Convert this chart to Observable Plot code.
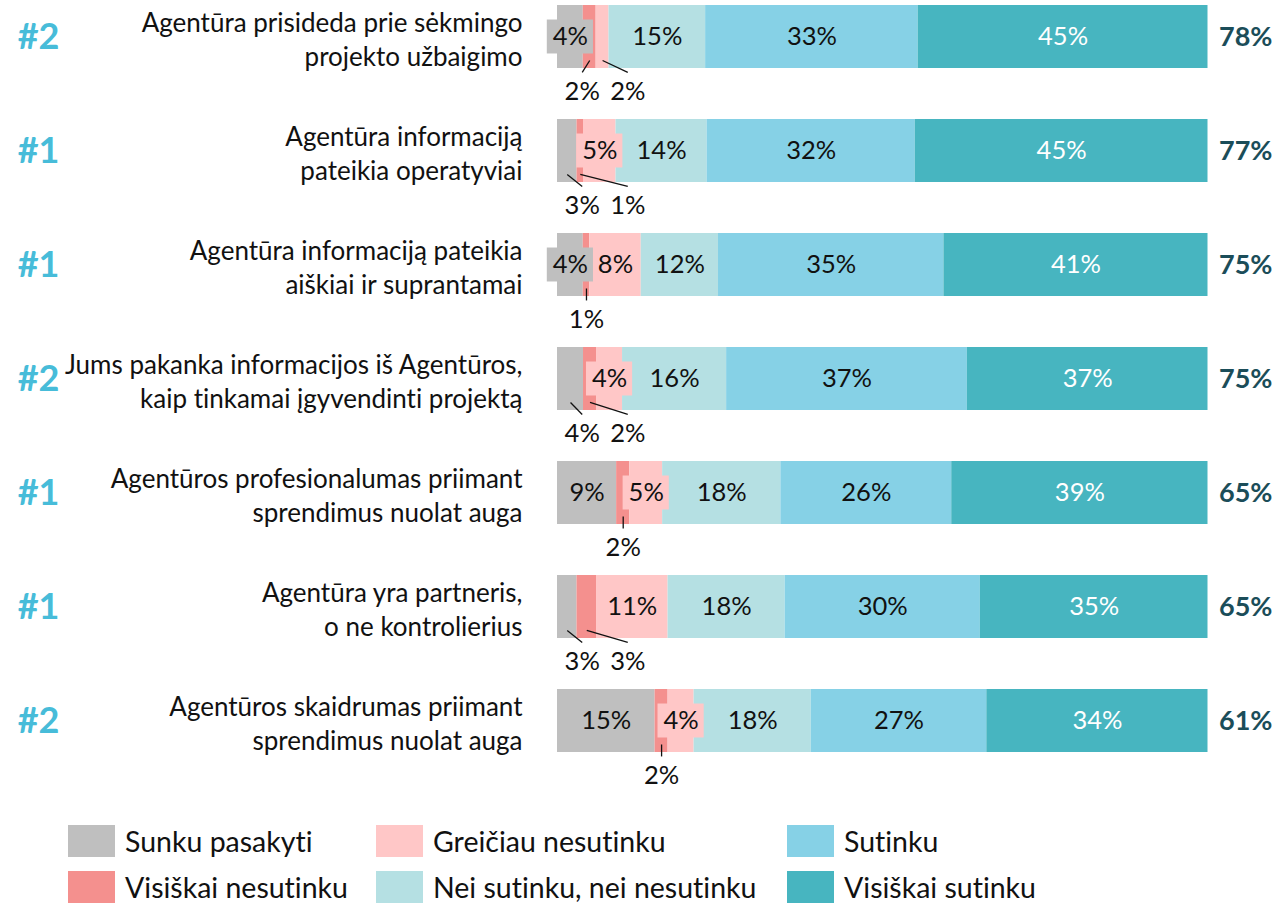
<!DOCTYPE html>
<html><head><meta charset="utf-8">
<script src="https://cdn.jsdelivr.net/npm/d3@7"></script>
<script src="https://cdn.jsdelivr.net/npm/@observablehq/plot@0.6"></script>
<style>
body{margin:0;background:#fff;font-family:Lato,"Open Sans",sans-serif;font-variant-ligatures:none;}
svg text{font-variant-ligatures:none;}
#legend{position:relative;height:105px;}
.item{position:absolute;display:flex;align-items:center;font-size:28.5px;line-height:32px;color:#111;white-space:nowrap;}
.sw{width:47px;height:32px;margin-right:10px;flex:none;}
</style></head><body><div id="chart"></div><div id="legend"></div>
<script>
const questions = [
  "Agentūra prisideda prie sėkmingo\nprojekto užbaigimo",
  "Agentūra informaciją\npateikia operatyviai",
  "Agentūra informaciją pateikia\naiškiai ir suprantamai",
  "Jums pakanka informacijos iš Agentūros,\nkaip tinkamai įgyvendinti projektą",
  "Agentūros profesionalumas priimant\nsprendimus nuolat auga",
  "Agentūra yra partneris,\no ne kontrolierius",
  "Agentūros skaidrumas priimant\nsprendimus nuolat auga"
];
const ranks = ["#2","#1","#1","#2","#1","#1","#2"];
const totals = ["78%","77%","75%","75%","65%","65%","61%"];
const categories = ["Sunku pasakyti","Visiškai nesutinku","Greičiau nesutinku","Nei sutinku, nei nesutinku","Sutinku","Visiškai sutinku"];
const colors = ["#bfbfbf","#f4908e","#ffc7c7","#b5e0e3","#86d1e6","#47b5c0"];
const sunku      = [4, 3, 4, 4, 9, 3, 15];
const visiskaiNe = [2, 1, 1, 2, 2, 3, 2];
const greiciauNe = [2, 5, 8, 4, 5, 11, 4];
const nei        = [15, 14, 12, 16, 18, 18, 18];
const sutinku    = [33, 32, 35, 37, 26, 30, 27];
const visiskai   = [45, 45, 41, 37, 39, 35, 34];
// labels placed below the bar: [row, category index]
const outside = [[0,1],[0,2],[1,0],[1,1],[2,1],[3,0],[3,1],[4,1],[5,0],[5,1],[6,1]];

const series = [sunku, visiskaiNe, greiciauNe, nei, sutinku, visiskai];
const segs = [];
questions.forEach((q, i) => {
  const sum = d3.sum(series, s => s[i]);
  let acc = 0;
  series.forEach((s, c) => {
    const v = s[i];
    const x1 = acc * 100 / sum, x2 = (acc + v) * 100 / sum;
    acc += v;
    segs.push({row: i, cat: c, value: v, x1, x2, mid: (x1 + x2) / 2,
      out: outside.some(o => o[0] === i && o[1] === c)});
  });
});
// positions of outside labels
const outs = segs.filter(d => d.out);
d3.groups(outs, d => d.row).forEach(([row, arr]) => {
  if (arr.length === 1) arr[0].lx = arr[0].mid;
  else { arr[0].lx = 3.8; arr[1].lx = 10.8; }
});
const ins = segs.filter(d => !d.out);
const boxed = ins.filter(d => d.value <= 5);
const rows = questions.map((q, i) => ({row: i, q, rank: ranks[i], total: totals[i]}));

const H = 0.2763;
const chart = Plot.plot({
  width: 1278, height: 800,
  marginLeft: 557, marginRight: 70.5, marginTop: 0, marginBottom: 0,
  style: {fontFamily: "Lato, 'Open Sans', sans-serif", background: "#fff"},
  x: {domain: [0, 100], axis: null},
  y: {domain: [0, 6], range: [36.5, 720.5], axis: null},
  marks: [
    Plot.rect(segs, {x1: "x1", x2: "x2", y1: d => d.row - H, y2: d => d.row + H, fill: d => colors[d.cat]}),
    Plot.rect(boxed, {x1: d => d.mid - 3.55, x2: d => d.mid + 3.55, y1: d => d.row - 0.149, y2: d => d.row + 0.149, fill: d => colors[d.cat]}),
    Plot.link(outs, {x1: "mid", x2: "lx", y1: d => d.row + 0.206, y2: d => d.row + 0.311, stroke: "#111", strokeWidth: 1.3}),
    Plot.text(ins, {x: "mid", y: "row", text: d => d.value + "%", fontSize: 25.5, fill: d => d.cat === 5 ? "#fff" : "#111"}),
    Plot.text(outs, {x: "lx", y: d => d.row + 0.482, text: d => d.value + "%", fontSize: 25.5, fill: "#111"}),
    Plot.text(rows, {x: 0, y: "row", text: "q", dx: -35, dy: 1, textAnchor: "end", fontSize: 26, lineHeight: 1.33, fill: "#111"}),
    Plot.text(rows, {x: 0, y: "row", text: "rank", dx: -519, fontSize: 36, fontWeight: "bold", fill: "#47bcd9"}),
    Plot.text(rows, {x: 100, y: "row", text: "total", dx: 11, textAnchor: "start", fontSize: 27, fontWeight: "bold", fill: "#1b4d59"})
  ]
});
document.getElementById("chart").appendChild(chart);

const legend = document.getElementById("legend");
const colX = [68, 376, 787], rowY = [25, 71];
categories.forEach((c, i) => {
  const el = document.createElement("div");
  el.className = "item";
  el.style.left = colX[Math.floor(i / 2)] + "px";
  el.style.top = rowY[i % 2] + "px";
  el.innerHTML = `<div class="sw" style="background:${colors[i]}"></div><span>${c}</span>`;
  legend.appendChild(el);
});
</script>
</body></html>
